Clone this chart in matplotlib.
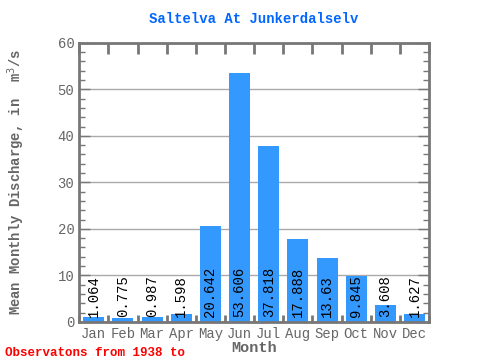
import matplotlib
matplotlib.use("Agg")
import matplotlib.pyplot as plt
import numpy as np
from matplotlib.ticker import MultipleLocator

# Monthly mean discharge values
months = ['Jan', 'Feb', 'Mar', 'Apr', 'May', 'Jun', 'Jul', 'Aug', 'Sep', 'Oct', 'Nov', 'Dec']
discharge = [1.064, 0.775, 0.987, 1.598, 20.642, 53.606, 37.818, 17.888, 13.63, 9.845, 3.608, 1.627]
value_labels = ['1.064', '0.775', '0.987', '1.598', '20.642', '53.606', '37.818', '17.888', '13.63', '9.845', '3.608', '1.627']

mono = 'Liberation Mono'
grey = '#777777'

fig = plt.figure(figsize=(4.8, 3.6), dpi=100)
ax = fig.add_axes([0.165, 0.106, 0.729, 0.775])

x = np.arange(len(months))
ax.bar(x, discharge, width=0.72, color='#3399ff', zorder=2)

for xi, lab in zip(x, value_labels):
    ax.text(xi, 1.0, lab, rotation=90, ha='center', va='bottom',
            family=mono, fontsize=10, color='black', zorder=3)

ax.set_xlim(-0.5, 11.5)
ax.set_ylim(0, 60)
ax.yaxis.set_major_locator(MultipleLocator(10))
ax.yaxis.set_minor_locator(MultipleLocator(2))
ax.grid(axis='y', which='major', color='#aaaaaa', linewidth=1, zorder=1)

boundaries = np.arange(-0.5, 12, 1)
ax.set_xticks(x)
ax.set_xticklabels(months)
ax.set_xticks(boundaries, minor=True)
ax.tick_params(axis='x', which='major', length=0, pad=4)
ax.tick_params(axis='x', which='minor', length=5, width=2, color=grey,
               direction='in', top=False, bottom=True)
ax.tick_params(axis='y', which='major', length=8, width=1, color=grey,
               direction='in', left=True, right=True)
ax.tick_params(axis='y', which='minor', length=4, width=1, color=grey,
               direction='in', left=True, right=True)
ax.tick_params(labelcolor='#666666', labelsize=10)
for lab in ax.get_xticklabels() + ax.get_yticklabels():
    lab.set_family(mono)

# longer ticks along the top edge
top = ax.secondary_xaxis('top')
top.set_xticks(boundaries)
top.tick_params(length=8, width=2, color=grey, direction='in', labeltop=False)
top.spines['top'].set_visible(False)

for sp in ax.spines.values():
    sp.set_color(grey)
    sp.set_linewidth(2)

ax.set_title('Saltelva At Junkerdalselv', family=mono, fontsize=10,
             fontweight='bold', color='#0066ff', pad=14)
ax.set_xlabel('Month', family=mono, fontsize=11, fontweight='bold',
              color='#666666', labelpad=0)
ax.set_ylabel('Mean Monthly Discharge, in  m$^3$/s', family=mono, fontsize=10,
              fontweight='bold', color='#666666', labelpad=22)

fig.text(0.01, 0.01, 'Observatons from 1938 to', family=mono, fontsize=9,
         fontweight='bold', color='#ff0000')

fig.savefig('out.png', dpi=100)
